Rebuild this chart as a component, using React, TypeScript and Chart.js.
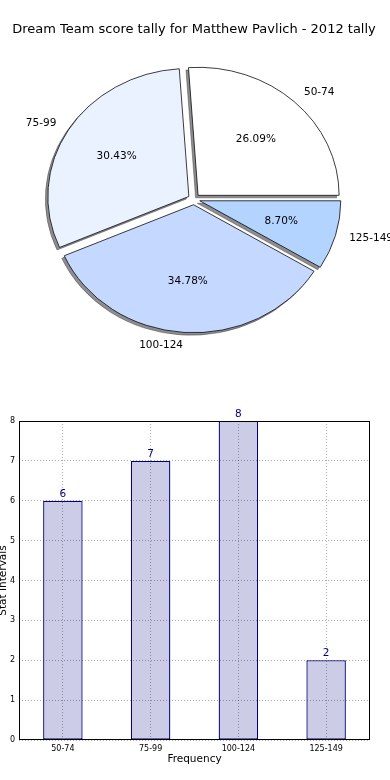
import React, { useEffect, useRef } from 'react';
import { Chart, registerables } from 'chart.js';

Chart.register(...registerables);

// ---- data ----
const chartTitle = 'Dream Team score tally for Matthew Pavlich - 2012 tally';
const categories = ['50-74', '75-99', '100-124', '125-149'];
const counts = [6, 7, 8, 2];
const pieColors = ['#ffffff', '#ebf2ff', '#c5d8ff', '#b3d4ff'];
const yTicks = [0, 1, 2, 3, 4, 5, 6, 7, 8];
const xAxisTitle = 'Frequency';
const yAxisTitle = 'Stat Intervals';

// ---- style ----
const FONT = "'DejaVu Sans', sans-serif";
const RATIO = 128 / 141; // vertical squash of the pie (ellipse)
const EXPLODE = 6;
const SHIFT = 1000;
const GRID = 'rgba(0,0,0,0.32)';
const DASH = [1, 2];

const piePlugin = {
  id: 'mplPie',
  beforeDatasetsDraw(chart: any) {
    const ctx = chart.ctx as CanvasRenderingContext2D;
    const arcs = chart.getDatasetMeta(0).data as any[];
    if (!arcs.length) return false;
    const cx = arcs[0].x;
    const cy = arcs[0].y;
    const applyT = () => {
      ctx.translate(cx, cy);
      ctx.scale(1, -RATIO);
      ctx.translate(-cx, -cy);
    };
    // shadows
    ctx.save();
    applyT();
    ctx.shadowColor = 'rgba(50,50,55,0.55)';
    ctx.shadowBlur = 0;
    ctx.shadowOffsetX = SHIFT - 2.5;
    ctx.shadowOffsetY = 2.5;
    arcs.forEach((arc) => {
      const mid = (arc.startAngle + arc.endAngle) / 2;
      ctx.save();
      ctx.translate(-SHIFT + Math.cos(mid) * EXPLODE, Math.sin(mid) * EXPLODE);
      arc.draw(ctx);
      ctx.restore();
    });
    ctx.restore();
    // wedges
    ctx.save();
    applyT();
    arcs.forEach((arc) => {
      const mid = (arc.startAngle + arc.endAngle) / 2;
      ctx.save();
      ctx.translate(Math.cos(mid) * EXPLODE, Math.sin(mid) * EXPLODE);
      arc.draw(ctx);
      ctx.restore();
    });
    ctx.restore();
    // labels
    const total = counts.reduce((a, b) => a + b, 0);
    ctx.save();
    ctx.font = `10.5px ${FONT}`;
    ctx.fillStyle = '#000';
    ctx.textBaseline = 'middle';
    arcs.forEach((arc, i) => {
      const mid = (arc.startAngle + arc.endAngle) / 2;
      const R = arc.outerRadius;
      const pos = (k: number) => [
        cx + Math.cos(mid) * (EXPLODE + k * R),
        cy - Math.sin(mid) * (EXPLODE + k * R) * RATIO,
      ];
      const [lx, ly] = pos(1.1);
      ctx.textAlign = Math.cos(mid) > 0 ? 'left' : 'right';
      ctx.fillText(categories[i], lx, ly);
      const [tx, ty] = pos(0.6);
      ctx.textAlign = 'center';
      ctx.fillText(((counts[i] / total) * 100).toFixed(2) + '%', tx, ty);
    });
    ctx.restore();
    return false;
  },
};

const framePlugin = {
  id: 'frame',
  afterDraw(chart: any) {
    const { ctx, chartArea: a } = chart;
    ctx.save();
    ctx.strokeStyle = '#000';
    ctx.lineWidth = 1;
    const l = Math.round(a.left) + 0.5;
    const t = Math.round(a.top) + 0.5;
    const r = Math.round(a.right) - 0.5;
    const b = Math.round(a.bottom) - 0.5;
    ctx.strokeRect(l, t, r - l, b - t);
    ctx.restore();
  },
};

const valueLabelPlugin = {
  id: 'valueLabels',
  afterDatasetsDraw(chart: any) {
    const ctx = chart.ctx as CanvasRenderingContext2D;
    const bars = chart.getDatasetMeta(0).data as any[];
    ctx.save();
    ctx.font = `10.5px ${FONT}`;
    ctx.fillStyle = '#000080';
    ctx.textAlign = 'center';
    ctx.textBaseline = 'alphabetic';
    bars.forEach((bar, i) => {
      ctx.fillText(String(counts[i]), bar.x, bar.y - 4);
    });
    ctx.restore();
  },
};

export default function App() {
  const pieRef = useRef<HTMLCanvasElement>(null);
  const barRef = useRef<HTMLCanvasElement>(null);

  useEffect(() => {
    const pie = new Chart(pieRef.current as HTMLCanvasElement, {
      type: 'pie',
      data: {
        labels: categories,
        datasets: [
          {
            data: counts,
            backgroundColor: pieColors,
            borderColor: '#000',
            borderWidth: 0.8,
            clip: false,
          } as any,
        ],
      },
      options: {
        animation: false,
        responsive: false,
        events: [],
        rotation: 90,
        radius: 141,
        layout: { padding: { left: 0, right: 2, top: 0, bottom: 39 } },
        plugins: {
          legend: { display: false },
          tooltip: { enabled: false },
          title: {
            display: true,
            text: chartTitle,
            color: '#000',
            font: { family: FONT, size: 13, weight: 'normal' },
            padding: { top: 22, bottom: 10 },
          },
        },
      } as any,
      plugins: [piePlugin as any],
    });

    const tickFont = { family: FONT, size: 8 };
    const titleFont = { family: FONT, size: 10.5 };
    const bar = new Chart(barRef.current as HTMLCanvasElement, {
      type: 'bar',
      data: {
        labels: categories,
        datasets: [
          {
            data: counts,
            backgroundColor: '#ccccE6',
            borderColor: '#000080',
            borderWidth: 1.3,
            borderSkipped: false,
            categoryPercentage: 1,
            barPercentage: 0.45,
          } as any,
        ],
      },
      options: {
        animation: false,
        responsive: false,
        events: [],
        layout: { padding: { left: 0, right: 20, top: 31, bottom: 0 } },
        plugins: { legend: { display: false }, tooltip: { enabled: false } },
        scales: {
          x: {
            offset: true,
            grid: { offset: false, z: 1, color: GRID, lineWidth: 1, drawTicks: false, borderDash: DASH },
            border: { display: false, dash: DASH },
            ticks: { font: tickFont, color: '#000', padding: 4, maxRotation: 0, autoSkip: false },
            title: {
              display: true,
              text: xAxisTitle,
              color: '#000',
              font: titleFont,
              padding: { top: 0, bottom: 14 },
            },
            afterFit: (s: any) => {
              s.height = 40;
            },
          },
          y: {
            min: 0,
            max: 8,
            afterBuildTicks: (s: any) => {
              s.ticks = yTicks.map((v) => ({ value: v }));
            },
            grid: { z: 1, color: GRID, lineWidth: 1, drawTicks: false, borderDash: DASH },
            border: { display: false, dash: DASH },
            ticks: { font: tickFont, color: '#000', padding: 4 },
            title: {
              display: true,
              text: yAxisTitle,
              color: '#000',
              font: titleFont,
              padding: { top: -3, bottom: 0 },
            },
            afterFit: (s: any) => {
              s.width = 19;
            },
          },
        },
      } as any,
      plugins: [framePlugin as any, valueLabelPlugin as any],
    });

    return () => {
      pie.destroy();
      bar.destroy();
    };
  }, []);

  return (
    <div style={{ position: 'absolute', left: 0, top: 0, width: 390, height: 780, background: '#fff' }}>
      <canvas ref={pieRef} width={390} height={390} style={{ display: 'block' }} />
      <canvas ref={barRef} width={390} height={390} style={{ display: 'block' }} />
    </div>
  );
}
